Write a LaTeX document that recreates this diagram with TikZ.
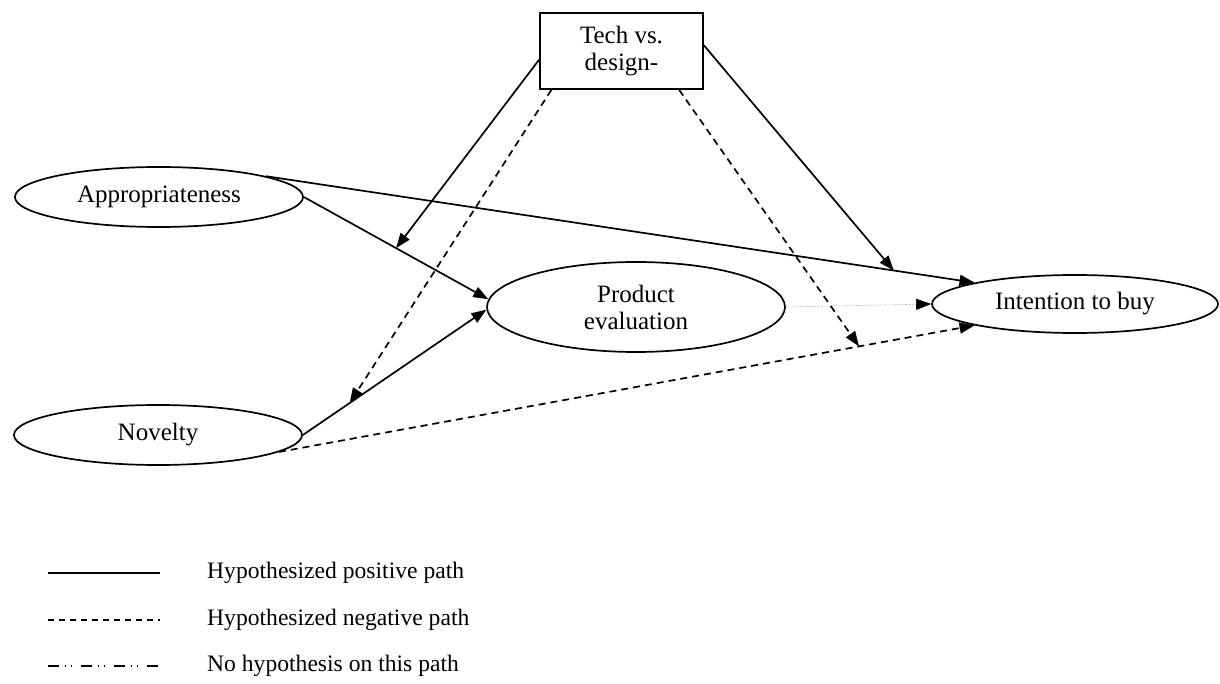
\documentclass[tikz,border=0pt]{standalone}
\usepackage{fontspec}
\setmainfont{Liberation Serif}
\usetikzlibrary{shapes.geometric,arrows.meta}
\begin{document}
\begin{tikzpicture}[x=1pt,y=-1pt,
  every node/.style={font=\fontsize{25}{27}\selectfont},
  construct/.style={draw,ellipse,line width=1.7pt,inner sep=0pt,
    minimum width=288pt,minimum height=60pt},
  moderator/.style={draw,rectangle,line width=1.7pt,inner sep=0pt,
    minimum width=163pt,minimum height=76pt,align=center},
  tip/.style={-{Triangle[length=15pt,width=11pt,color=black]}},
  positive/.style={tip,line width=1.7pt},
  negative/.style={tip,line width=1.7pt,dash pattern=on 7pt off 5pt},
  nohyp/.style={tip,line width=0.6pt,draw=gray!55,dash pattern=on 2pt off 1.5pt},
  legendtext/.style={anchor=west,inner sep=0pt,font=\fontsize{23.6}{27}\selectfont}]
\useasboundingbox (0,0) rectangle (1220,684);

% constructs
\node[moderator] (tech) at (621.5,51) {Tech vs.\\design-};
\node[construct] (appr) at (159,197) {Appropriateness};
\node[construct] (nov) at (158,435) {Novelty};
\node[construct,minimum width=298pt,minimum height=90pt,align=center]
  (pe) at (636,307) {Product\\evaluation};
\node[construct,minimum width=286pt,minimum height=58pt] (int) at (1075,304) {Intention to buy};

% main paths, with points where the moderator acts
\draw[positive] (appr.east) -- coordinate[pos=0.5] (m1) (pe.177);
\draw[positive] (nov.east) -- coordinate[pos=0.255] (m2) (pe.181);
\draw[positive] (appr.11) -- coordinate[pos=0.886] (m4) (int.168);
\draw[negative] (nov.-8) -- coordinate[pos=0.834] (m3) (int.192);
\draw[nohyp] (pe.east) -- (int.west);

% moderating paths
\draw[positive] (tech.186) -- (m1);
\draw[negative] (tech.209) -- (m2);
\draw[negative] (tech.-34) -- (m3);
\draw[positive] (tech.4) -- (m4);

% legend
\coordinate (l1a) at (48,573);  \coordinate (l1b) at (160,573);
\coordinate (l2a) at (48,620);  \coordinate (l2b) at (160,620);
\coordinate (l3a) at (48,666);  \coordinate (l3b) at (160,666);
\draw[line width=1.7pt] (l1a) -- (l1b);
\draw[line width=1.5pt,dash pattern=on 6pt off 5pt] (l2a) -- (l2b);
\draw[line width=1.5pt,dash pattern=on 11pt off 6pt on 1.2pt off 4.5pt on 1.2pt off 9pt] (l3a) -- (l3b);
\node[legendtext] (t1) at (207,573) {Hypothesized positive path};
\node[legendtext] (t2) at (207,620) {Hypothesized negative path};
\node[legendtext] (t3) at (207,666) {No hypothesis on this path};
\end{tikzpicture}
\end{document}
